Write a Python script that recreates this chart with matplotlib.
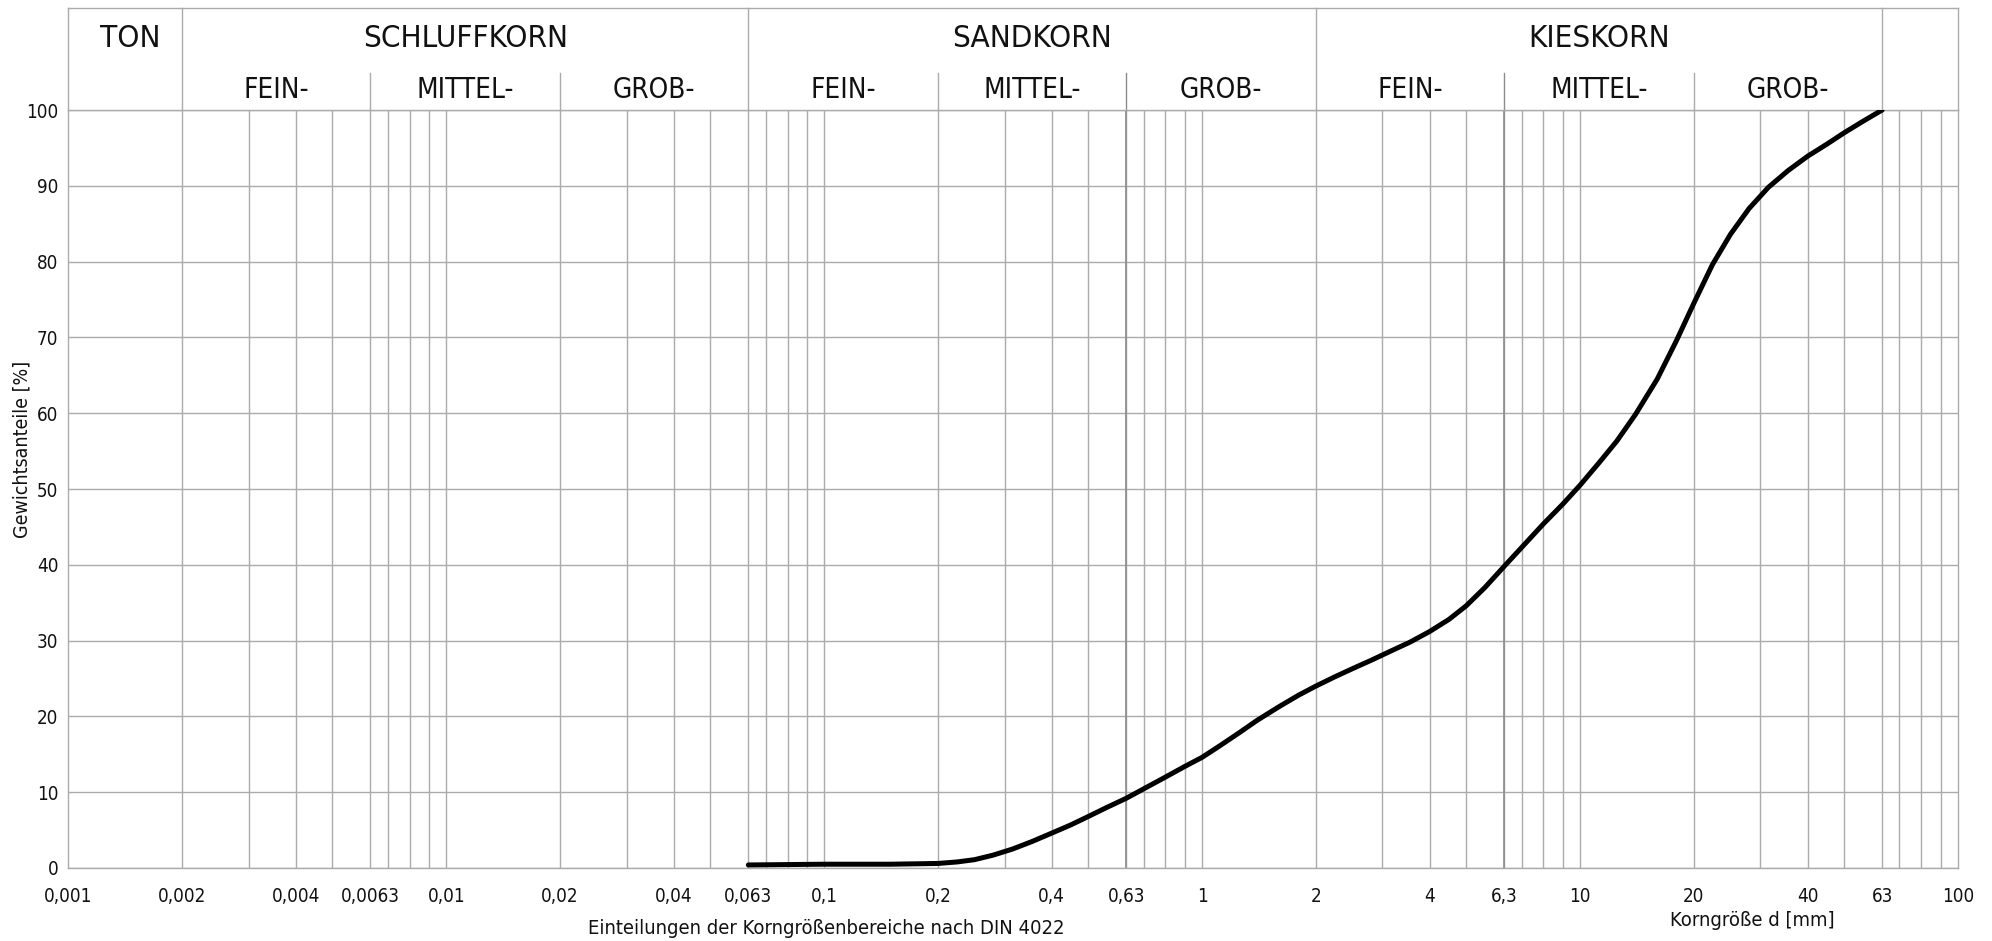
import matplotlib
matplotlib.use("Agg")
import matplotlib.pyplot as plt
from matplotlib import font_manager as fm
import matplotlib.transforms as mtransforms

# ---- data ----
grain_mm = [0.063, 0.1, 0.15, 0.2, 0.225, 0.25, 0.28, 0.315, 0.355, 0.4, 0.45, 0.5, 0.56,
            0.63, 0.71, 0.8, 0.9, 1.0, 1.12, 1.25, 1.4, 1.6, 1.8, 2.0, 2.24, 2.5, 2.8,
            3.15, 3.55, 4.0, 4.5, 5.0, 5.6, 6.3, 7.1, 8.0, 9.0, 10, 11.2, 12.5, 14,
            16, 18, 20, 22.4, 25, 28, 31.5, 35.5, 40, 45, 50, 56, 63]
passing_pct = [0.4, 0.5, 0.5, 0.6, 0.8, 1.1, 1.7, 2.5, 3.5, 4.6, 5.7, 6.8, 8.0,
               9.2, 10.6, 12.0, 13.4, 14.6, 16.2, 17.8, 19.5, 21.3, 22.8, 24.0, 25.2, 26.3, 27.4,
               28.6, 29.8, 31.2, 32.8, 34.6, 37.0, 39.8, 42.6, 45.4, 48.0, 50.5, 53.4, 56.3, 59.8,
               64.5, 69.6, 74.5, 79.6, 83.6, 87.0, 89.8, 92.0, 93.9, 95.5, 97.0, 98.5, 100]

grid_x = [0.002, 0.003, 0.004, 0.005, 0.0063, 0.007, 0.008, 0.009, 0.01,
          0.02, 0.03, 0.04, 0.05, 0.063, 0.07, 0.08, 0.09, 0.1,
          0.2, 0.3, 0.4, 0.5, 0.63, 0.7, 0.8, 0.9, 1,
          2, 3, 4, 5, 6.3, 7, 8, 9, 10,
          20, 30, 40, 50, 63, 70, 80, 90]
tick_vals = [0.001, 0.002, 0.004, 0.0063, 0.01, 0.02, 0.04, 0.063, 0.1, 0.2, 0.4, 0.63,
             1, 2, 4, 6.3, 10, 20, 40, 63, 100]
tick_labels = ["0,001", "0,002", "0,004", "0,0063", "0,01", "0,02", "0,04", "0,063", "0,1",
               "0,2", "0,4", "0,63", "1", "2", "4", "6,3", "10", "20", "40", "63", "100"]
y_ticks = [0, 10, 20, 30, 40, 50, 60, 70, 80, 90, 100]

main_bounds = [0.001, 0.002, 0.063, 2, 63]
main_names = ["TON", "SCHLUFFKORN", "SANDKORN", "KIESKORN"]
sub_bounds = [0.002, 0.0063, 0.02, 0.063, 0.2, 0.63, 2, 6.3, 20, 63]
sub_names = ["FEIN-", "MITTEL-", "GROB-"] * 3

# ---- font ----
avail = {f.name for f in fm.fontManager.ttflist}
fam = [f for f in ["Liberation Sans Narrow", "DejaVu Sans"] if f in avail]
plt.rcParams['font.family'] = fam
stretch = 'normal' if fam[0] == "Liberation Sans Narrow" else 'condensed'

GRID = '#ababab'
DARK = '#8c8c8c'
TXT = '#111111'

fig = plt.figure(figsize=(19.92, 9.41), dpi=100)
ax = fig.add_axes([0.03429, 0.07758, 0.98293 - 0.03429, 0.8831 - 0.07758])
ax.set_xscale('log')
ax.set_xlim(0.001, 100)
ax.set_ylim(0, 100)

for v in grid_x:
    ax.axvline(v, color=GRID, lw=1.0, zorder=1)
for v in y_ticks:
    ax.axhline(v, color=GRID, lw=1.0, zorder=1)
for v in [0.63, 6.3]:
    ax.axvline(v, color=DARK, lw=1.2, zorder=1)

for s in ax.spines.values():
    s.set_color(GRID)
    s.set_linewidth(1.0)

ax.plot(grain_mm, passing_pct, color='black', lw=3.6, solid_capstyle='round',
        solid_joinstyle='round', zorder=3)

ax.set_xticks(tick_vals)
ax.set_xticklabels(tick_labels)
ax.xaxis.set_minor_locator(matplotlib.ticker.NullLocator())
ax.set_yticks(y_ticks)
ax.set_yticklabels([str(v) for v in y_ticks])
ax.tick_params(axis='both', length=0, labelsize=13.5, colors=TXT)
ax.tick_params(axis='x', pad=14)
ax.tick_params(axis='y', pad=7)
for lab in ax.get_xticklabels() + ax.get_yticklabels():
    lab.set_fontstretch(stretch)
    lab.set_fontweight('light')

# header
trans = mtransforms.blended_transform_factory(ax.transData, ax.transAxes)
H_TOP = 1.1342
SUB_TOP = 1.0488
ax.plot([0.001, 100], [H_TOP, H_TOP], transform=trans, color=GRID, lw=1.0, clip_on=False)
for v in [0.001, 100]:
    ax.plot([v, v], [1.0, H_TOP], transform=trans, color=GRID, lw=1.0, clip_on=False)
for v in main_bounds[1:]:
    ax.plot([v, v], [1.0, H_TOP], transform=trans, color=GRID, lw=1.0, clip_on=False)
for v in sub_bounds:
    if v in main_bounds:
        continue
    ax.plot([v, v], [1.0, SUB_TOP], transform=trans, color=DARK if v in (0.63, 6.3) else GRID,
            lw=1.0, clip_on=False)

for i, name in enumerate(main_names):
    a, b = main_bounds[i], main_bounds[i + 1]
    xc = (a * b) ** 0.5 * (1.03 if i == 0 else 1.0)
    ax.text(xc, 1.0831, name, transform=trans, ha='center', va='baseline',
            fontsize=22.5, fontstretch=stretch, color=TXT, fontweight='light')
for i, name in enumerate(sub_names):
    a, b = sub_bounds[i], sub_bounds[i + 1]
    xc = (a * b) ** 0.5
    ax.text(xc, 1.0158, name, transform=trans, ha='center', va='baseline',
            fontsize=20, fontstretch=stretch, color=TXT, fontweight='light')

fig.text(826 / 1992, 1 - 929 / 941, "Einteilungen der Korngrößenbereiche nach DIN 4022",
         ha='center', va='center', fontsize=14.5, fontstretch=stretch, color=TXT, fontweight='light')
fig.text(1752 / 1992, 1 - 921 / 941, "Korngröße d [mm]",
         ha='center', va='center', fontsize=14.5, fontstretch=stretch, color=TXT, fontweight='light')
fig.text(22 / 1992, 1 - 449 / 941, "Gewichtsanteile [%]", rotation=90,
         ha='center', va='center', fontsize=14, fontstretch=stretch, color=TXT, fontweight='light')

fig.savefig("out.png", dpi=100, facecolor='white')
